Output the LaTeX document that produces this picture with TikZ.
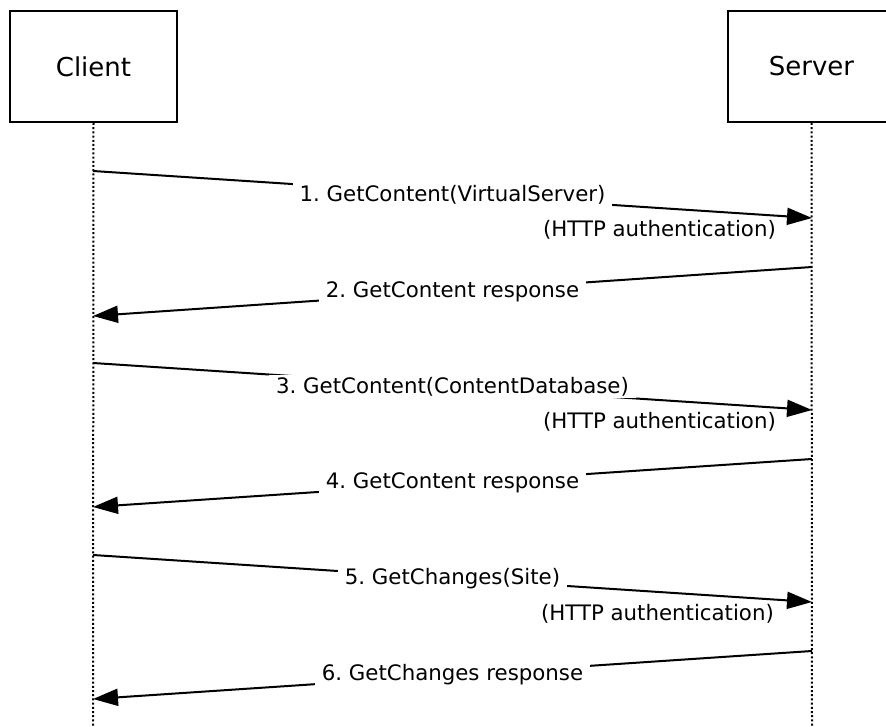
\documentclass[tikz,border=0pt]{standalone}
\usepackage{fontspec}
\setmainfont{DejaVu Sans}
\frenchspacing
\usetikzlibrary{arrows.meta,positioning,calc}

\tikzset{
	party/.style={draw, line width=2pt, rectangle, minimum width=167pt, minimum height=111pt, inner sep=0pt, font=\fontsize{26}{30}\selectfont},
	lifeline/.style={line width=2pt, dash pattern=on 2pt off 2.2pt},
	msg/.style={line width=2pt, -{Triangle[length=25pt,width=17pt]}},
	msglabel/.style={fill=white, inner xsep=7pt, inner ysep=2pt, font=\fontsize{21.3}{25}\selectfont},
	note/.style={inner sep=0pt, anchor=east, font=\fontsize{21.3}{25}\selectfont}
}

\begin{document}
\begin{tikzpicture}[x=1pt,y=-1pt]
		\useasboundingbox (0,0) rectangle (886,727);

		% parties
		\node[party] (client) at (93.5,66.5) {Client};
		\node[party] (server) at (811.5,66.5) {Server};

		% lifelines
		\coordinate (cend) at (93,727);
		\coordinate (send) at (812,727);
		\draw[lifeline] (client.south) -- (cend);
		\draw[lifeline] (server.south) -- (send);

		% message ends
		\coordinate (c1) at (93,171);  \coordinate (s1) at (812,218);
		\coordinate (s2) at (812,267); \coordinate (c2) at (93,316);
		\coordinate (c3) at (93,363);  \coordinate (s3) at (812,410);
		\coordinate (s4) at (812,459); \coordinate (c4) at (93,507);
		\coordinate (c5) at (93,555);  \coordinate (s5) at (812,602);
		\coordinate (s6) at (812,651); \coordinate (c6) at (93,699);

		% messages
		\draw[msg] (c1) -- node[msglabel] (m1) {1. GetContent(VirtualServer)} (s1);
		\node[note] (a1) at ([xshift=-36pt,yshift=-12pt]s1) {(HTTP authentication)};

		\draw[msg] (s2) -- node[msglabel] (m2) {2. GetContent response} (c2);

		\draw[msg] (c3) -- node[msglabel] (m3) {3. GetContent(ContentDatabase)} (s3);
		\node[note] (a3) at ([xshift=-36pt,yshift=-12pt]s3) {(HTTP authentication)};

		\draw[msg] (s4) -- node[msglabel] (m4) {4. GetContent response} (c4);

		\draw[msg] (c5) -- node[msglabel] (m5) {5. GetChanges(Site)} (s5);
		\node[note] (a5) at ([xshift=-38pt,yshift=-12pt]s5) {(HTTP authentication)};

		\draw[msg] (s6) -- node[msglabel] (m6) {6. GetChanges response} (c6);
	\end{tikzpicture}
\end{document}
